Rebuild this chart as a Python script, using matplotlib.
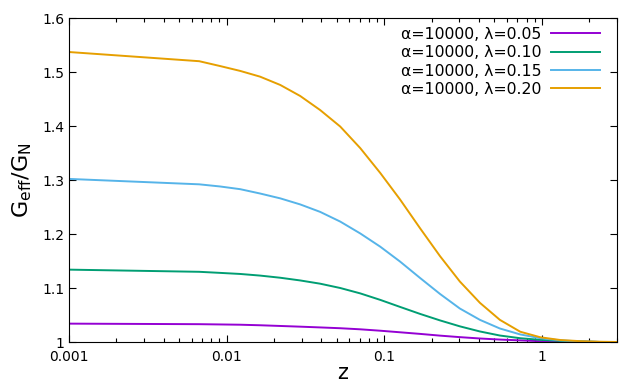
import matplotlib
matplotlib.use("Agg")
import matplotlib.pyplot as plt
from matplotlib.ticker import LogLocator, NullFormatter

# redshift samples
z = [0.001, 0.0067, 0.0091, 0.0122, 0.0163, 0.0219, 0.0293, 0.0392, 0.0526, 0.0705,
     0.0944, 0.126, 0.169, 0.226, 0.302, 0.405, 0.542, 0.73, 0.98, 1.31,
     1.76, 2.36, 3.0]

g_005 = [1.034, 1.033, 1.0325, 1.032, 1.031, 1.0297, 1.0284, 1.027, 1.0255, 1.0235,
         1.0209, 1.018, 1.015, 1.0118, 1.009, 1.0065, 1.0045, 1.003, 1.0015, 1.001,
         1.0005, 1.000, 1.000]
g_010 = [1.134, 1.130, 1.128, 1.126, 1.123, 1.119, 1.114, 1.108, 1.100, 1.090,
         1.078, 1.065, 1.052, 1.040, 1.029, 1.0195, 1.012, 1.007, 1.004, 1.002,
         1.001, 1.000, 1.000]
g_015 = [1.302, 1.292, 1.288, 1.283, 1.275, 1.266, 1.2548, 1.241, 1.223, 1.201,
         1.1765, 1.149, 1.1185, 1.089, 1.062, 1.041, 1.025, 1.014, 1.007, 1.003,
         1.001, 1.000, 1.000]
g_020 = [1.537, 1.520, 1.511, 1.502, 1.4914, 1.476, 1.4556, 1.4296, 1.399, 1.359,
         1.313, 1.264, 1.2105, 1.159, 1.112, 1.0725, 1.041, 1.019, 1.0087, 1.0037,
         1.0015, 1.0005, 1.000]

labels = ["α=10000, λ=0.05", "α=10000, λ=0.10", "α=10000, λ=0.15", "α=10000, λ=0.20"]
colors = ["#9400D3", "#009E73", "#56B4E9", "#E69F00"]

fig = plt.figure(figsize=(6.4, 3.84), dpi=100)
ax = fig.add_axes([69/640, 1 - 342/384, (617 - 69)/640, (342 - 18)/384])

for g, lab, c in zip([g_005, g_010, g_015, g_020], labels, colors):
    ax.plot(z, g, color=c, lw=1.4, label=lab)

ax.set_xscale("log")
ax.set_xlim(0.001, 3)
ax.set_ylim(1.0, 1.6)
ax.set_xticks([0.001, 0.01, 0.1, 1])
ax.set_xticklabels(["0.001", "0.01", "0.1", "1"])
ax.xaxis.set_minor_locator(LogLocator(base=10, subs=range(2, 10)))
ax.xaxis.set_minor_formatter(NullFormatter())
ax.set_yticks([1.0, 1.1, 1.2, 1.3, 1.4, 1.5, 1.6])
ax.set_yticklabels(["1", "1.1", "1.2", "1.3", "1.4", "1.5", "1.6"])

ax.tick_params(which="both", direction="in", top=True, right=True, labelsize=10)
ax.tick_params(which="major", length=5, width=0.8)
ax.tick_params(which="minor", length=3, width=0.8)
ax.tick_params(axis="x", pad=6)

ax.set_xlabel("z", fontsize=15, labelpad=-1)
ax.set_ylabel(r"G$_{\mathrm{eff}}$/G$_{\mathrm{N}}$", fontsize=16, labelpad=6)

leg = ax.legend(loc="upper right", frameon=False, markerfirst=False, fontsize=11.3,
                handlelength=3.15, handletextpad=0.6, labelspacing=0.22,
                borderaxespad=0.15, bbox_to_anchor=(0.985, 1.0))

fig.savefig("out.png", dpi=100)
